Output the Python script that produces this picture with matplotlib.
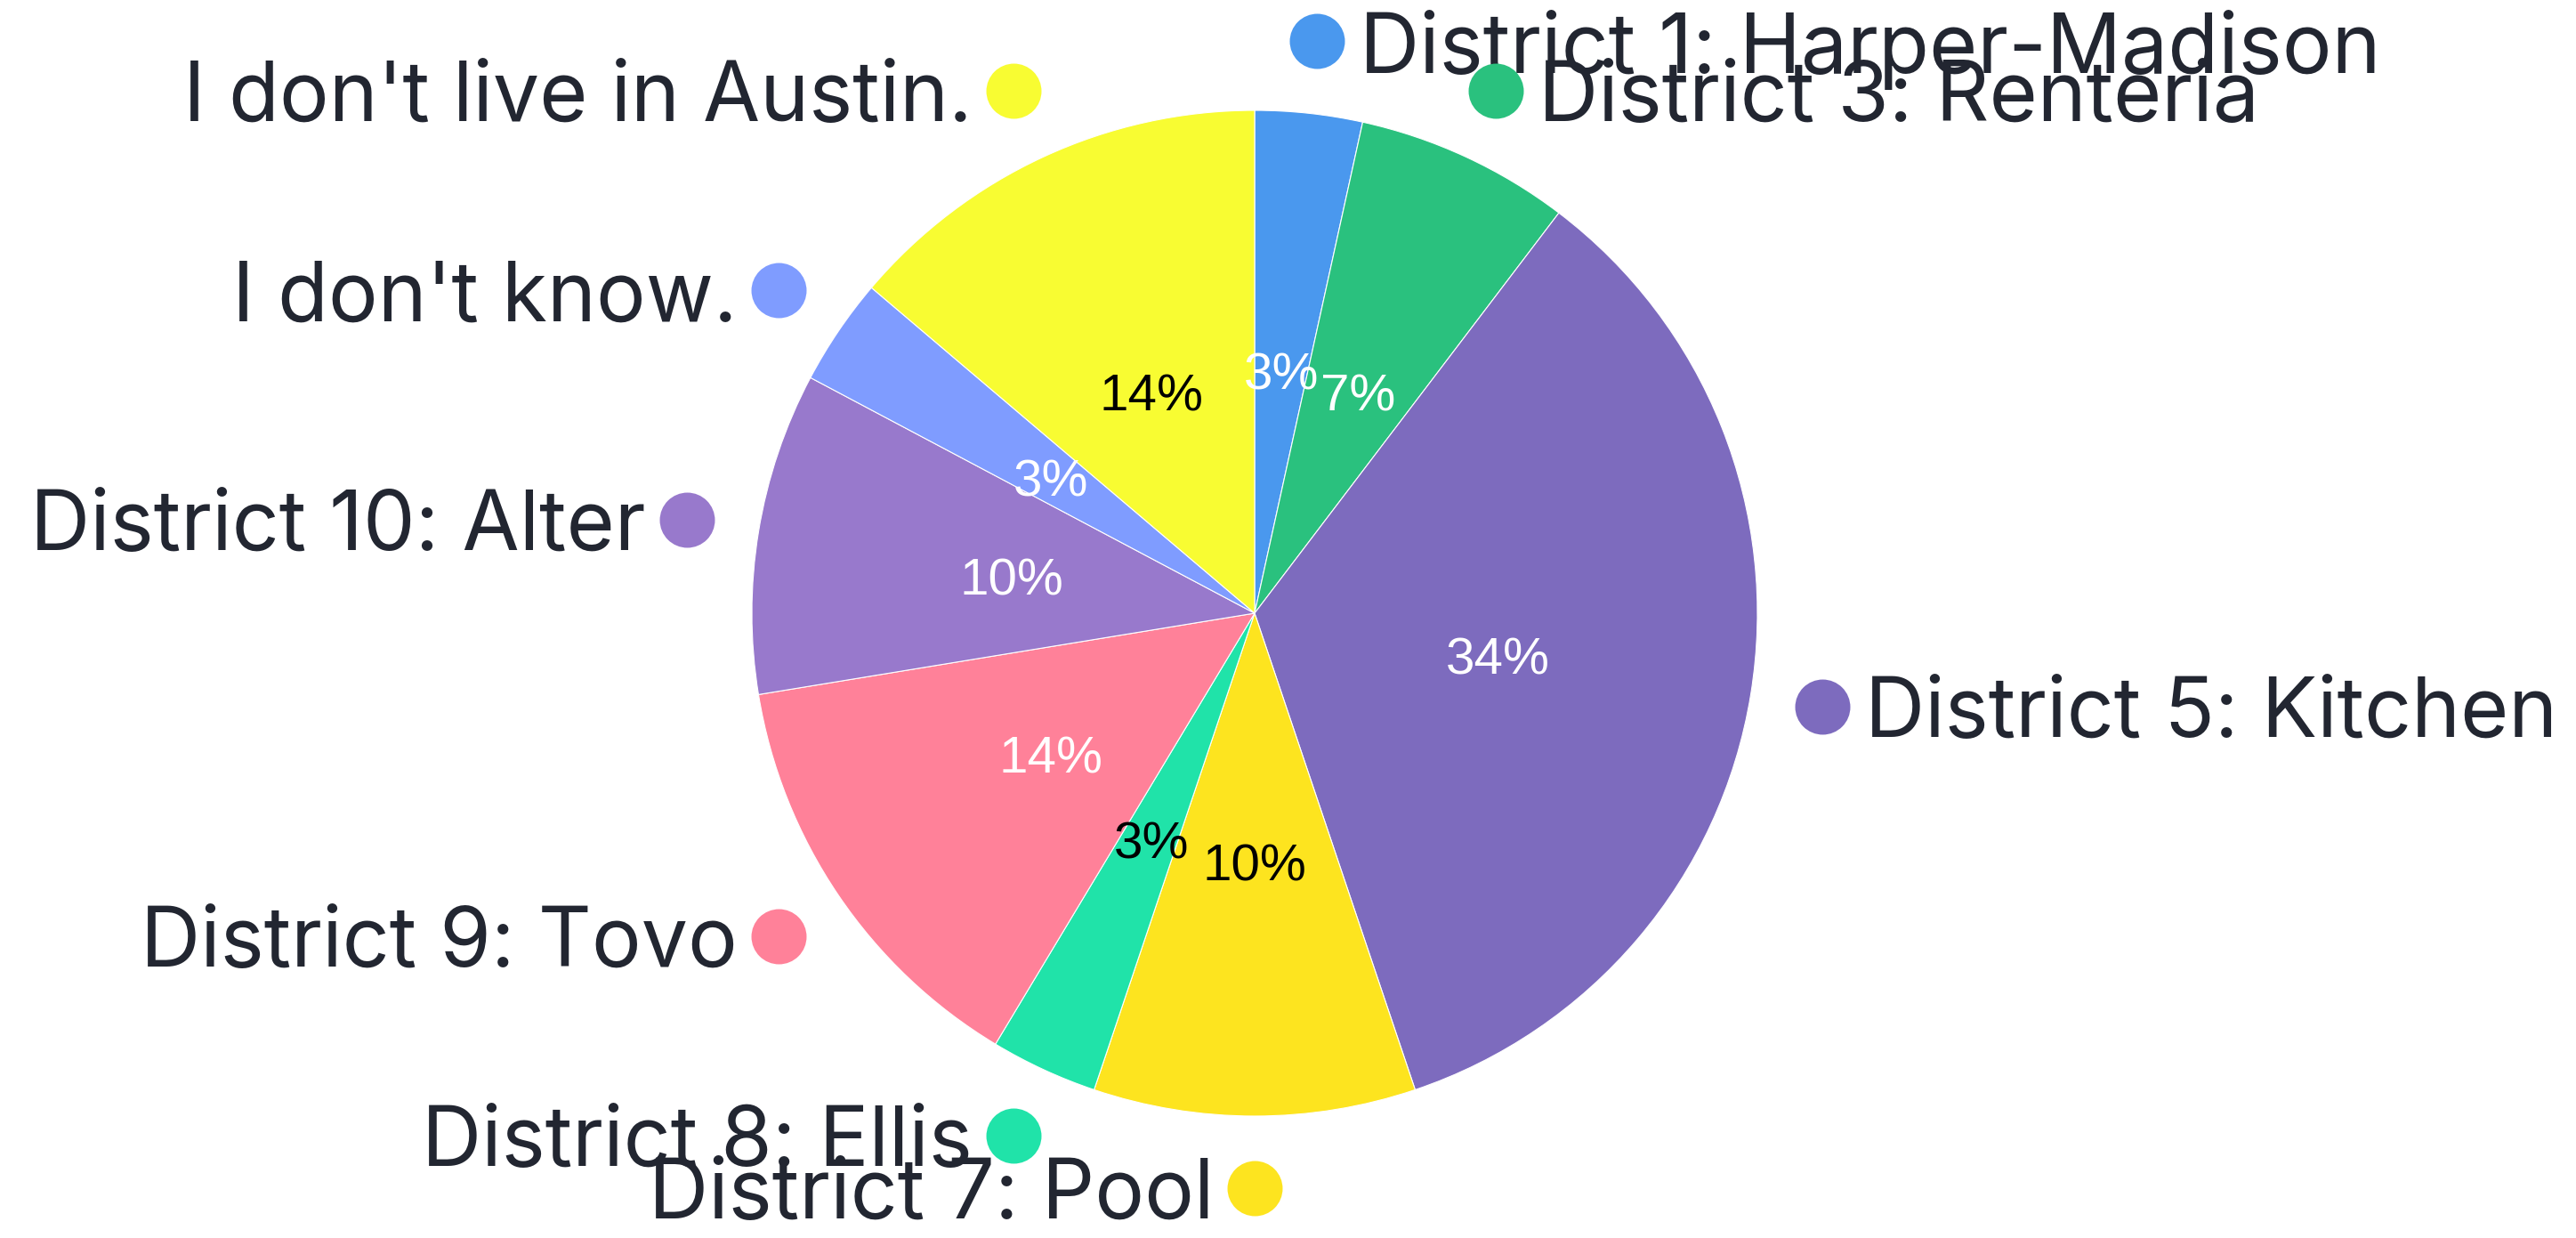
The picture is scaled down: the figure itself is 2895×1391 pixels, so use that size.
import numpy as np
import matplotlib
matplotlib.use("Agg")
import matplotlib.pyplot as plt

labels = [
    "District 1: Harper-Madison",
    "District 3: Renteria",
    "District 5: Kitchen",
    "District 7: Pool",
    "District 8: Ellis",
    "District 9: Tovo",
    "District 10: Alter",
    "I don't know.",
    "I don't live in Austin.",
]
counts = [1, 2, 10, 3, 1, 4, 3, 1, 4]
colors = ["#4A98EE", "#2AC17E", "#7D6BBE", "#FDE41F", "#20E3A9",
          "#FF8199", "#9879CC", "#7F9CFF", "#F8FC32"]
pct_colors = ["white", "white", "white", "black", "black",
              "white", "white", "white", "black"]

W, H = 2895, 1391
cx, cy, R = 1410, H - 689, 565
text_color = "#222631"

fig = plt.figure(figsize=(W / 100, H / 100), dpi=100)
ax = fig.add_axes([0, 0, 1, 1])

wedges, _, autotexts = ax.pie(
    counts, colors=colors, startangle=90, counterclock=False,
    center=(cx, cy), radius=R, autopct=lambda p: f"{p:.0f}%",
    pctdistance=0.49, wedgeprops=dict(edgecolor="white", linewidth=0.8),
    textprops=dict(fontsize=42, family="Liberation Sans"),
)
for t, c in zip(autotexts, pct_colors):
    t.set_color(c)
    px, py = t.get_position()
    t.set_position((px, py - 9))

# labels: dot on mid-angle just outside the pie, text beside it
for w, lab, col in zip(wedges, labels, colors):
    mid = np.deg2rad((w.theta1 + w.theta2) / 2)
    x = cx + 1.144 * R * np.cos(mid)
    y = cy + 1.144 * R * np.sin(mid)
    ax.scatter([x], [y], s=1990, color=col, zorder=3, linewidths=0)
    right = np.cos(mid) > 1e-6
    ax.text(x + (48 if right else -46), y, lab, ha="left" if right else "right",
            va="center_baseline", fontsize=67, family="Inter", color=text_color)

ax.set_xlim(0, W)
ax.set_ylim(0, H)
ax.set_aspect("equal")
ax.axis("off")
fig.savefig("out.png", dpi=100, facecolor="white")
